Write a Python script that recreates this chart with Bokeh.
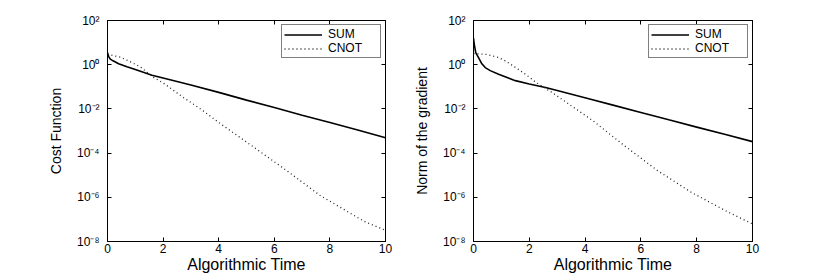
from bokeh.plotting import figure
from bokeh.layouts import row
from bokeh.models import (FixedTicker, CustomJSTickFormatter, LinearAxis, LogAxis,
                          Range1d, Legend, LegendItem)
from bokeh.embed import file_html
from bokeh.resources import INLINE

# ---- data ----
x_ticks = [0, 2, 4, 6, 8, 10]
y_ticks = [1e-8, 1e-6, 1e-4, 1e-2, 1e0, 1e2]
y_tick_labels = ["10\u207b\u2078", "10\u207b\u2076", "10\u207b\u2074", "10\u207b\u00b2", "10\u2070", "10\u00b2"]

cost_sum_x = [0, 0.05, 0.1, 0.2, 0.4, 0.7, 1.0, 1.6, 2, 3, 4, 5, 6, 7, 8, 9, 10]
cost_sum_y = [3.5, 2.2, 1.8, 1.5, 1.1, 0.8, 0.6, 0.33, 0.25, 0.12, 0.056, 0.025,
              0.0115, 5.2e-3, 2.4e-3, 1.1e-3, 4.9e-4]
cost_cnot_x = [0, 0.46, 0.8, 1.18, 1.67, 2, 2.73, 3.4, 4.05, 5.25, 6.45, 7.65,
               8.3, 8.85, 9.27, 10]
cost_cnot_y = [2.95, 2.2, 1.4, 0.8, 0.26, 0.15, 0.033, 8.9e-3, 2.2e-3, 1.9e-4,
               1.6e-5, 1.2e-6, 4e-7, 1.55e-7, 7.8e-8, 3.2e-8]

grad_sum_x = [0, 0.03, 0.08, 0.18, 0.3, 0.42, 0.6, 0.9, 1.5, 2, 2.58, 3, 4.2, 5,
              6, 7, 8, 9, 10]
grad_sum_y = [16, 8, 3.5, 2.1, 1.1, 0.74, 0.54, 0.37, 0.19, 0.135, 0.093, 0.068,
              0.0275, 0.0148, 6.9e-3, 3.2e-3, 1.5e-3, 7.1e-4, 3.3e-4]
grad_cnot_x = [0, 0.5, 0.9, 1.14, 1.5, 1.86, 2.3, 2.82, 3.5, 4.3, 5.4, 6.6, 7.8,
               9.0, 9.5, 10]
grad_cnot_y = [3.2, 2.9, 2.1, 1.5, 0.76, 0.37, 0.14, 0.055, 0.014, 2.8e-3,
               2.2e-4, 1.6e-5, 1.7e-6, 2.6e-7, 1.26e-7, 6.3e-8]

series_names = ["SUM", "CNOT"]
x_label = "Algorithmic Time"
y_labels = ["Cost Function", "Norm of the gradient"]

FONT = "Liberation Sans"


def ylabel_formatter():
    return CustomJSTickFormatter(args=dict(yt=y_ticks, labs=y_tick_labels), code="""
        const i = yt.findIndex(t => Math.abs(Math.log10(t) - Math.log10(tick)) < 1e-6);
        return i >= 0 ? labs[i] : "";
    """)


def blank_formatter():
    return CustomJSTickFormatter(code='return "";')


def style_axis(ax):
    ax.axis_line_color = "black"
    ax.major_tick_line_color = "black"
    ax.major_tick_in = 4
    ax.major_tick_out = 0
    ax.minor_tick_line_color = None
    ax.major_label_text_font = FONT
    ax.major_label_text_color = "black"
    ax.axis_label_text_font = FONT
    ax.axis_label_text_font_style = "normal"
    ax.axis_label_text_color = "black"


def make_panel(ylab, sx, sy, cx, cy, width, bl, br):
    p = figure(width=width, height=275, y_axis_type="log",
               x_range=Range1d(0, 10), y_range=Range1d(1e-8, 1e2),
               output_backend="svg", toolbar_location=None,
               min_border_left=bl, min_border_right=br, min_border_top=20,
               min_border_bottom=5)
    p.grid.grid_line_color = None
    p.outline_line_color = "black"
    p.background_fill_color = "white"
    p.border_fill_color = "white"

    xa = p.xaxis[0]
    style_axis(xa)
    xa.ticker = FixedTicker(ticks=x_ticks)
    xa.major_label_text_font_size = "12px"
    xa.major_label_standoff = 2
    xa.axis_label = x_label
    xa.axis_label_text_font_size = "16px"
    xa.axis_label_standoff = 0

    ya = p.yaxis[0]
    style_axis(ya)
    ya.ticker = FixedTicker(ticks=y_ticks)
    ya.formatter = ylabel_formatter()
    ya.major_label_text_font_size = "12px"
    ya.major_label_standoff = 8
    ya.axis_label = ylab
    ya.axis_label_text_font_size = "14px"
    ya.axis_label_standoff = 10

    top = LinearAxis(ticker=FixedTicker(ticks=x_ticks), formatter=blank_formatter())
    style_axis(top)
    top.major_label_standoff = 0
    p.add_layout(top, "above")
    right = LogAxis(ticker=FixedTicker(ticks=y_ticks), formatter=blank_formatter())
    style_axis(right)
    right.major_label_standoff = 0
    p.add_layout(right, "right")

    r1 = p.line(sx, sy, line_color="black", line_width=1.6)
    r2 = p.line(cx, cy, line_color="#222222", line_width=1.3, line_dash="1 3")

    leg = Legend(items=[LegendItem(label=series_names[0], renderers=[r1]),
                        LegendItem(label=series_names[1], renderers=[r2])],
                 location="top_right")
    leg.label_text_font = FONT
    leg.label_text_font_size = "12px"
    leg.label_text_color = "black"
    leg.label_text_line_height = 1.0
    leg.glyph_width = 38
    leg.glyph_height = 11
    leg.label_height = 11
    leg.label_width = 50
    leg.label_standoff = 6
    leg.padding = 2
    leg.spacing = 0
    leg.margin = 4
    leg.border_line_color = "black"
    leg.border_line_width = 1
    leg.background_fill_alpha = 1
    p.add_layout(leg, "center")
    return p


p1 = make_panel(y_labels[0], cost_sum_x, cost_sum_y, cost_cnot_x, cost_cnot_y, 408, 107, 23)
p2 = make_panel(y_labels[1], grad_sum_x, grad_sum_y, grad_cnot_x, grad_cnot_y, 360, 65, 16)

layout = row(p1, p2)
open("out.html", "w").write(file_html(layout, INLINE))
